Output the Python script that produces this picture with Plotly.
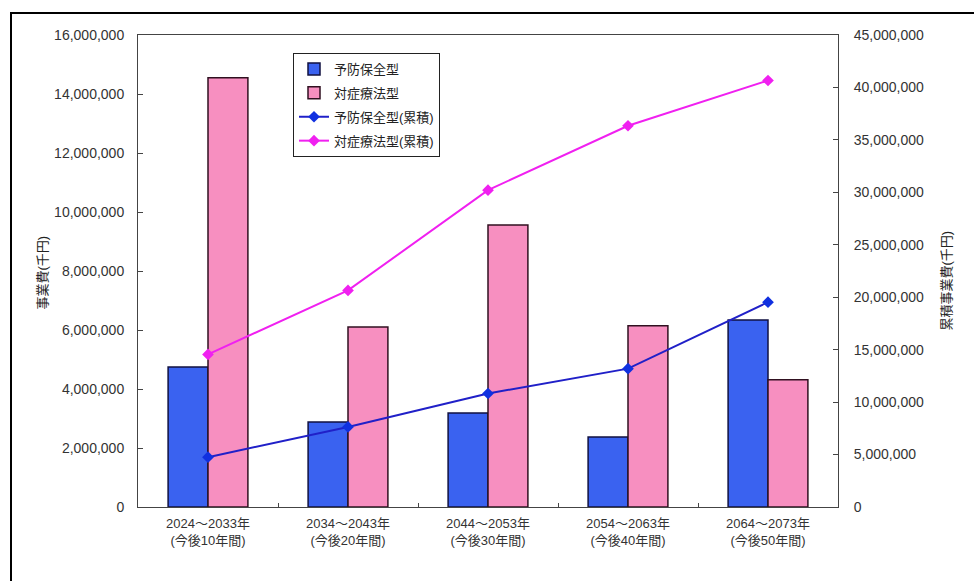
import plotly.graph_objects as go

categories = ["2024～2033年<br>(今後10年間)", "2034～2043年<br>(今後20年間)",
              "2044～2053年<br>(今後30年間)", "2054～2063年<br>(今後40年間)",
              "2064～2073年<br>(今後50年間)"]
yobou = [4750000, 2880000, 3190000, 2370000, 6340000]
taisho = [14550000, 6100000, 9560000, 6140000, 4310000]
yobou_cum = [4750000, 7630000, 10820000, 13190000, 19530000]
taisho_cum = [14550000, 20650000, 30210000, 36350000, 40660000]
left_ticks = [0, 2000000, 4000000, 6000000, 8000000, 10000000, 12000000, 14000000, 16000000]
right_ticks = [0, 5000000, 10000000, 15000000, 20000000, 25000000, 30000000, 35000000, 40000000, 45000000]

FONT = "Liberation Sans, Arial, Noto Sans CJK JP"

fig = go.Figure()
fig.add_trace(go.Bar(x=categories, y=yobou, name="予防保全型", legendgroup="a",
                     marker=dict(color="#3A62F0", line=dict(color="#101040", width=1.5))))
fig.add_trace(go.Bar(x=categories, y=taisho, name="対症療法型", legendgroup="b",
                     marker=dict(color="#F78FC0", line=dict(color="#301020", width=1.5))))
fig.add_trace(go.Scatter(x=categories, y=yobou_cum, name="予防保全型(累積)", yaxis="y2",
                         legendgroup="c",
                         mode="lines+markers", line=dict(color="#2020C8", width=2),
                         marker=dict(symbol="diamond", size=9, color="#1030E0")))
fig.add_trace(go.Scatter(x=categories, y=taisho_cum, name="対症療法型(累積)", yaxis="y2",
                         legendgroup="d",
                         mode="lines+markers", line=dict(color="#F020F0", width=2),
                         marker=dict(symbol="diamond", size=9, color="#F020F0")))

L, R, T, B = 138, 136, 35, 74
W, H = 974, 581
pw, ph = W - L - R, H - T - B

def px_x(x):
    return (x - L) / pw

def px_y(y):
    return (H - B - y) / ph

fig.update_layout(
    width=W, height=H,
    margin=dict(l=L, r=R, t=T, b=B),
    paper_bgcolor="white", plot_bgcolor="white",
    font=dict(family=FONT, size=12, color="#333333"),
    barmode="group", bargap=0.43, bargroupgap=0,
    showlegend=True,
    legend=dict(x=px_x(293), y=px_y(53), xanchor="left", yanchor="top",
                bgcolor="white", bordercolor="#222222", borderwidth=1,
                font=dict(size=13, color="#222222"), traceorder="grouped",
                tracegroupgap=4),
    xaxis=dict(showline=True, linecolor="#444444", linewidth=1, mirror=True,
               ticks="inside", ticklen=4, tickson="boundaries", tickcolor="#444444",
               ticklabelstandoff=4,
               showgrid=False, tickfont=dict(size=13, color="#333333")),
    yaxis=dict(range=[0, 16000000], tickvals=left_ticks,
               ticktext=[f"{v:,}" for v in left_ticks],
               showline=True, linecolor="#444444", linewidth=1,
               ticks="inside", ticklen=5, tickcolor="#444444",
               ticklabelstandoff=10,
               showgrid=False, zeroline=False, tickfont=dict(size=14, color="#333333")),
    yaxis2=dict(range=[0, 45000000], tickvals=right_ticks,
                ticktext=[f"{v:,}" for v in right_ticks],
                overlaying="y", side="right",
                showline=True, linecolor="#444444", linewidth=1,
                ticks="inside", ticklen=5, tickcolor="#444444",
                ticklabelstandoff=12,
                showgrid=False, zeroline=False, tickfont=dict(size=14, color="#333333")),
    annotations=[
        dict(text="事業費(千円)", x=px_x(32), y=px_y(272), xref="paper", yref="paper",
             textangle=-90, showarrow=False, font=dict(size=13, color="#222222")),
        dict(text="累積事業費(千円)", x=px_x(955), y=px_y(280), xref="paper", yref="paper",
             textangle=-90, showarrow=False, font=dict(size=13, color="#222222")),
    ],
    shapes=[
        dict(type="rect", xref="paper", yref="paper",
             x0=px_x(11), y0=px_y(600), x1=px_x(990), y1=px_y(13),
             line=dict(color="black", width=2), fillcolor="rgba(0,0,0,0)", layer="below"),
    ],
)

fig.write_html("out.html")
